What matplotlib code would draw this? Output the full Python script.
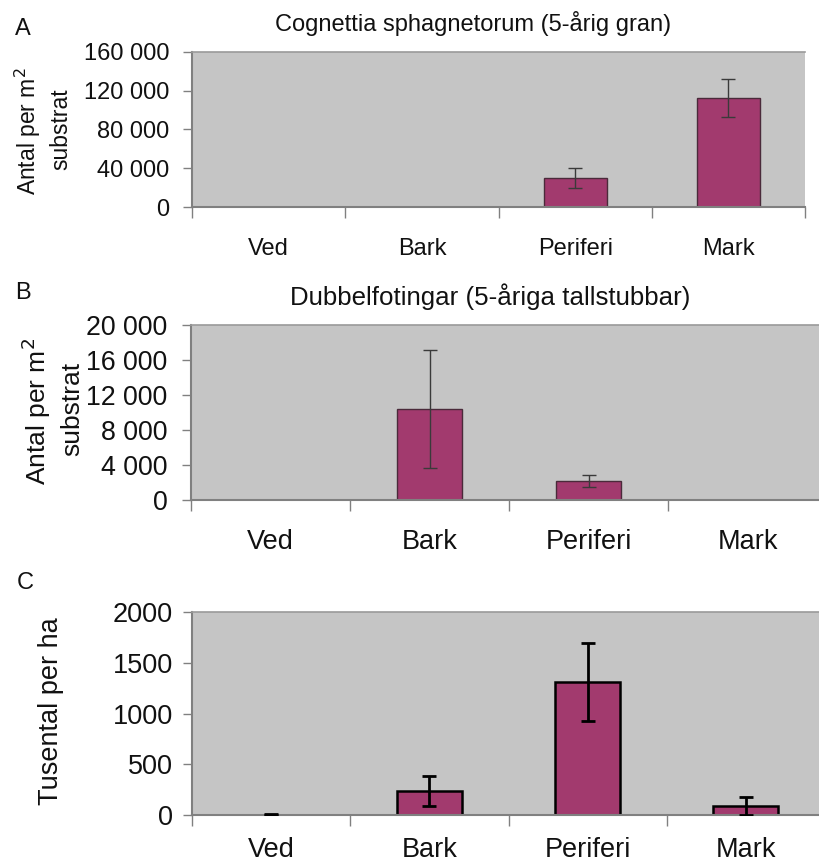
import matplotlib
matplotlib.use("Agg")
import matplotlib.pyplot as plt
from matplotlib.ticker import FixedLocator, FuncFormatter

plt.rcParams['font.family'] = ['Liberation Sans', 'DejaVu Sans']

categories = ["Ved", "Bark", "Periferi", "Mark"]

# A: Cognettia sphagnetorum, individuals per m2 substrate
a_values = [0, 0, 29500, 112500]
a_errors = [0, 0, 10300, 19800]
a_ticks = [0, 40000, 80000, 120000, 160000]

# B: Dubbelfotingar, individuals per m2 substrate
b_values = [0, 10400, 2200, 0]
b_errors = [0, 6700, 700, 0]
b_ticks = [0, 4000, 8000, 12000, 16000, 20000]

# C: thousands per hectare
c_values = [4, 235, 1310, 90]
c_errors = [2, 150, 385, 88]
c_ticks = [0, 500, 1000, 1500, 2000]

BG = "#C5C5C5"
BAR = "#A23A6E"
AXC = "#808080"
TXT = "#111111"

W, H = 819, 863
fig = plt.figure(figsize=(W / 100, H / 100), dpi=100)


def box(left, top, right, bottom):
    return [left / W, 1 - bottom / H, (right - left) / W, (bottom - top) / H]


def space_fmt(v, pos):
    return f"{v:,.0f}".replace(",", " ")


def panel(rect, values, errors, ticks, tick_fs, tick_pad, cat_fs, cat_pad,
          bar_edge, bar_lw, err_color, err_lw, capsize, fmt):
    ax = fig.add_axes(rect)
    ax.set_facecolor(BG)
    x = list(range(len(categories)))
    # empty categories get no outline so nothing shows at zero
    ax.bar(x, values, width=0.41, color=BAR, edgecolor=bar_edge,
           linewidth=[bar_lw if v > 0 else 0 for v in values], zorder=2)
    ex = [i for i in x if errors[i] > 0]
    ax.errorbar(ex, [values[i] for i in ex], yerr=[errors[i] for i in ex],
                fmt="none", ecolor=err_color, elinewidth=err_lw, capsize=capsize,
                capthick=err_lw, zorder=3)
    ax.set_xlim(-0.5, len(categories) - 0.5)
    ax.set_ylim(ticks[0], ticks[-1])
    ax.yaxis.set_major_locator(FixedLocator(ticks))
    ax.yaxis.set_major_formatter(FuncFormatter(fmt))
    ax.tick_params(axis="y", labelsize=tick_fs, length=6.5, width=1, color=AXC,
                   pad=tick_pad, labelcolor=TXT)
    # category boundaries carry the tick marks, centres carry the labels
    ax.xaxis.set_major_locator(FixedLocator([i - 0.5 for i in range(len(categories) + 1)]))
    ax.xaxis.set_major_formatter(FuncFormatter(lambda v, p: ""))
    ax.set_xticks(x, categories, minor=True)
    ax.tick_params(axis="x", which="major", length=8, width=1, color=AXC)
    ax.tick_params(axis="x", which="minor", length=0, pad=cat_pad,
                   labelsize=cat_fs, labelcolor=TXT)
    for side in ("left", "bottom"):
        ax.spines[side].set_color(AXC)
        ax.spines[side].set_linewidth(1.5)
    ax.spines["top"].set_color("#9A9A9A")
    ax.spines["top"].set_linewidth(1.2)
    ax.spines["right"].set_visible(False)
    return ax


def vtext(x, y, s, fs):
    fig.text(x / W, 1 - y / H, s, rotation=90, ha="center", va="center",
             fontsize=fs, color=TXT)


# Panel A
panel(box(192, 52, 805, 207), a_values, a_errors, a_ticks, 17, 10, 17, 22,
      "#4a2a3a", 1.0, "#3a3a3a", 1.0, 4.8, space_fmt)
fig.text(473 / W, 1 - 23 / H, "Cognettia sphagnetorum (5-årig gran)",
         ha="center", va="center", fontsize=17, color=TXT)
fig.text(15 / W, 1 - 29 / H, "A", ha="left", va="center", fontsize=17, color=TXT)
vtext(28, 131, "Antal per m$^2$", 16.5)
vtext(61, 129, "substrat", 16.5)

# Panel B
panel(box(191, 325, 827, 500), b_values, b_errors, b_ticks, 19.3, 10.5, 19.5, 21,
      "#4a2a3a", 1.0, "#3a3a3a", 1.0, 4.8, space_fmt)
fig.text(490 / W, 1 - 297 / H, "Dubbelfotingar (5-åriga tallstubbar)",
         ha="center", va="center", fontsize=18.6, color=TXT)
fig.text(15 / W, 1 - 293 / H, "B", ha="left", va="center", fontsize=17, color=TXT)
vtext(36, 411, "Antal per m$^2$", 19)
vtext(72, 409, "substrat", 19)

# Panel C
panel(box(192, 612, 825, 815), c_values, c_errors, c_ticks, 19.5, 7, 19.5, 15.5,
      "black", 1.8, "black", 2.0, 5, lambda v, p: f"{v:.0f}")
fig.text(17 / W, 1 - 583 / H, "C", ha="left", va="center", fontsize=17, color=TXT)
vtext(51, 711, "Tusental per ha", 19.5)

fig.savefig("out.png", dpi=100, facecolor="white")
